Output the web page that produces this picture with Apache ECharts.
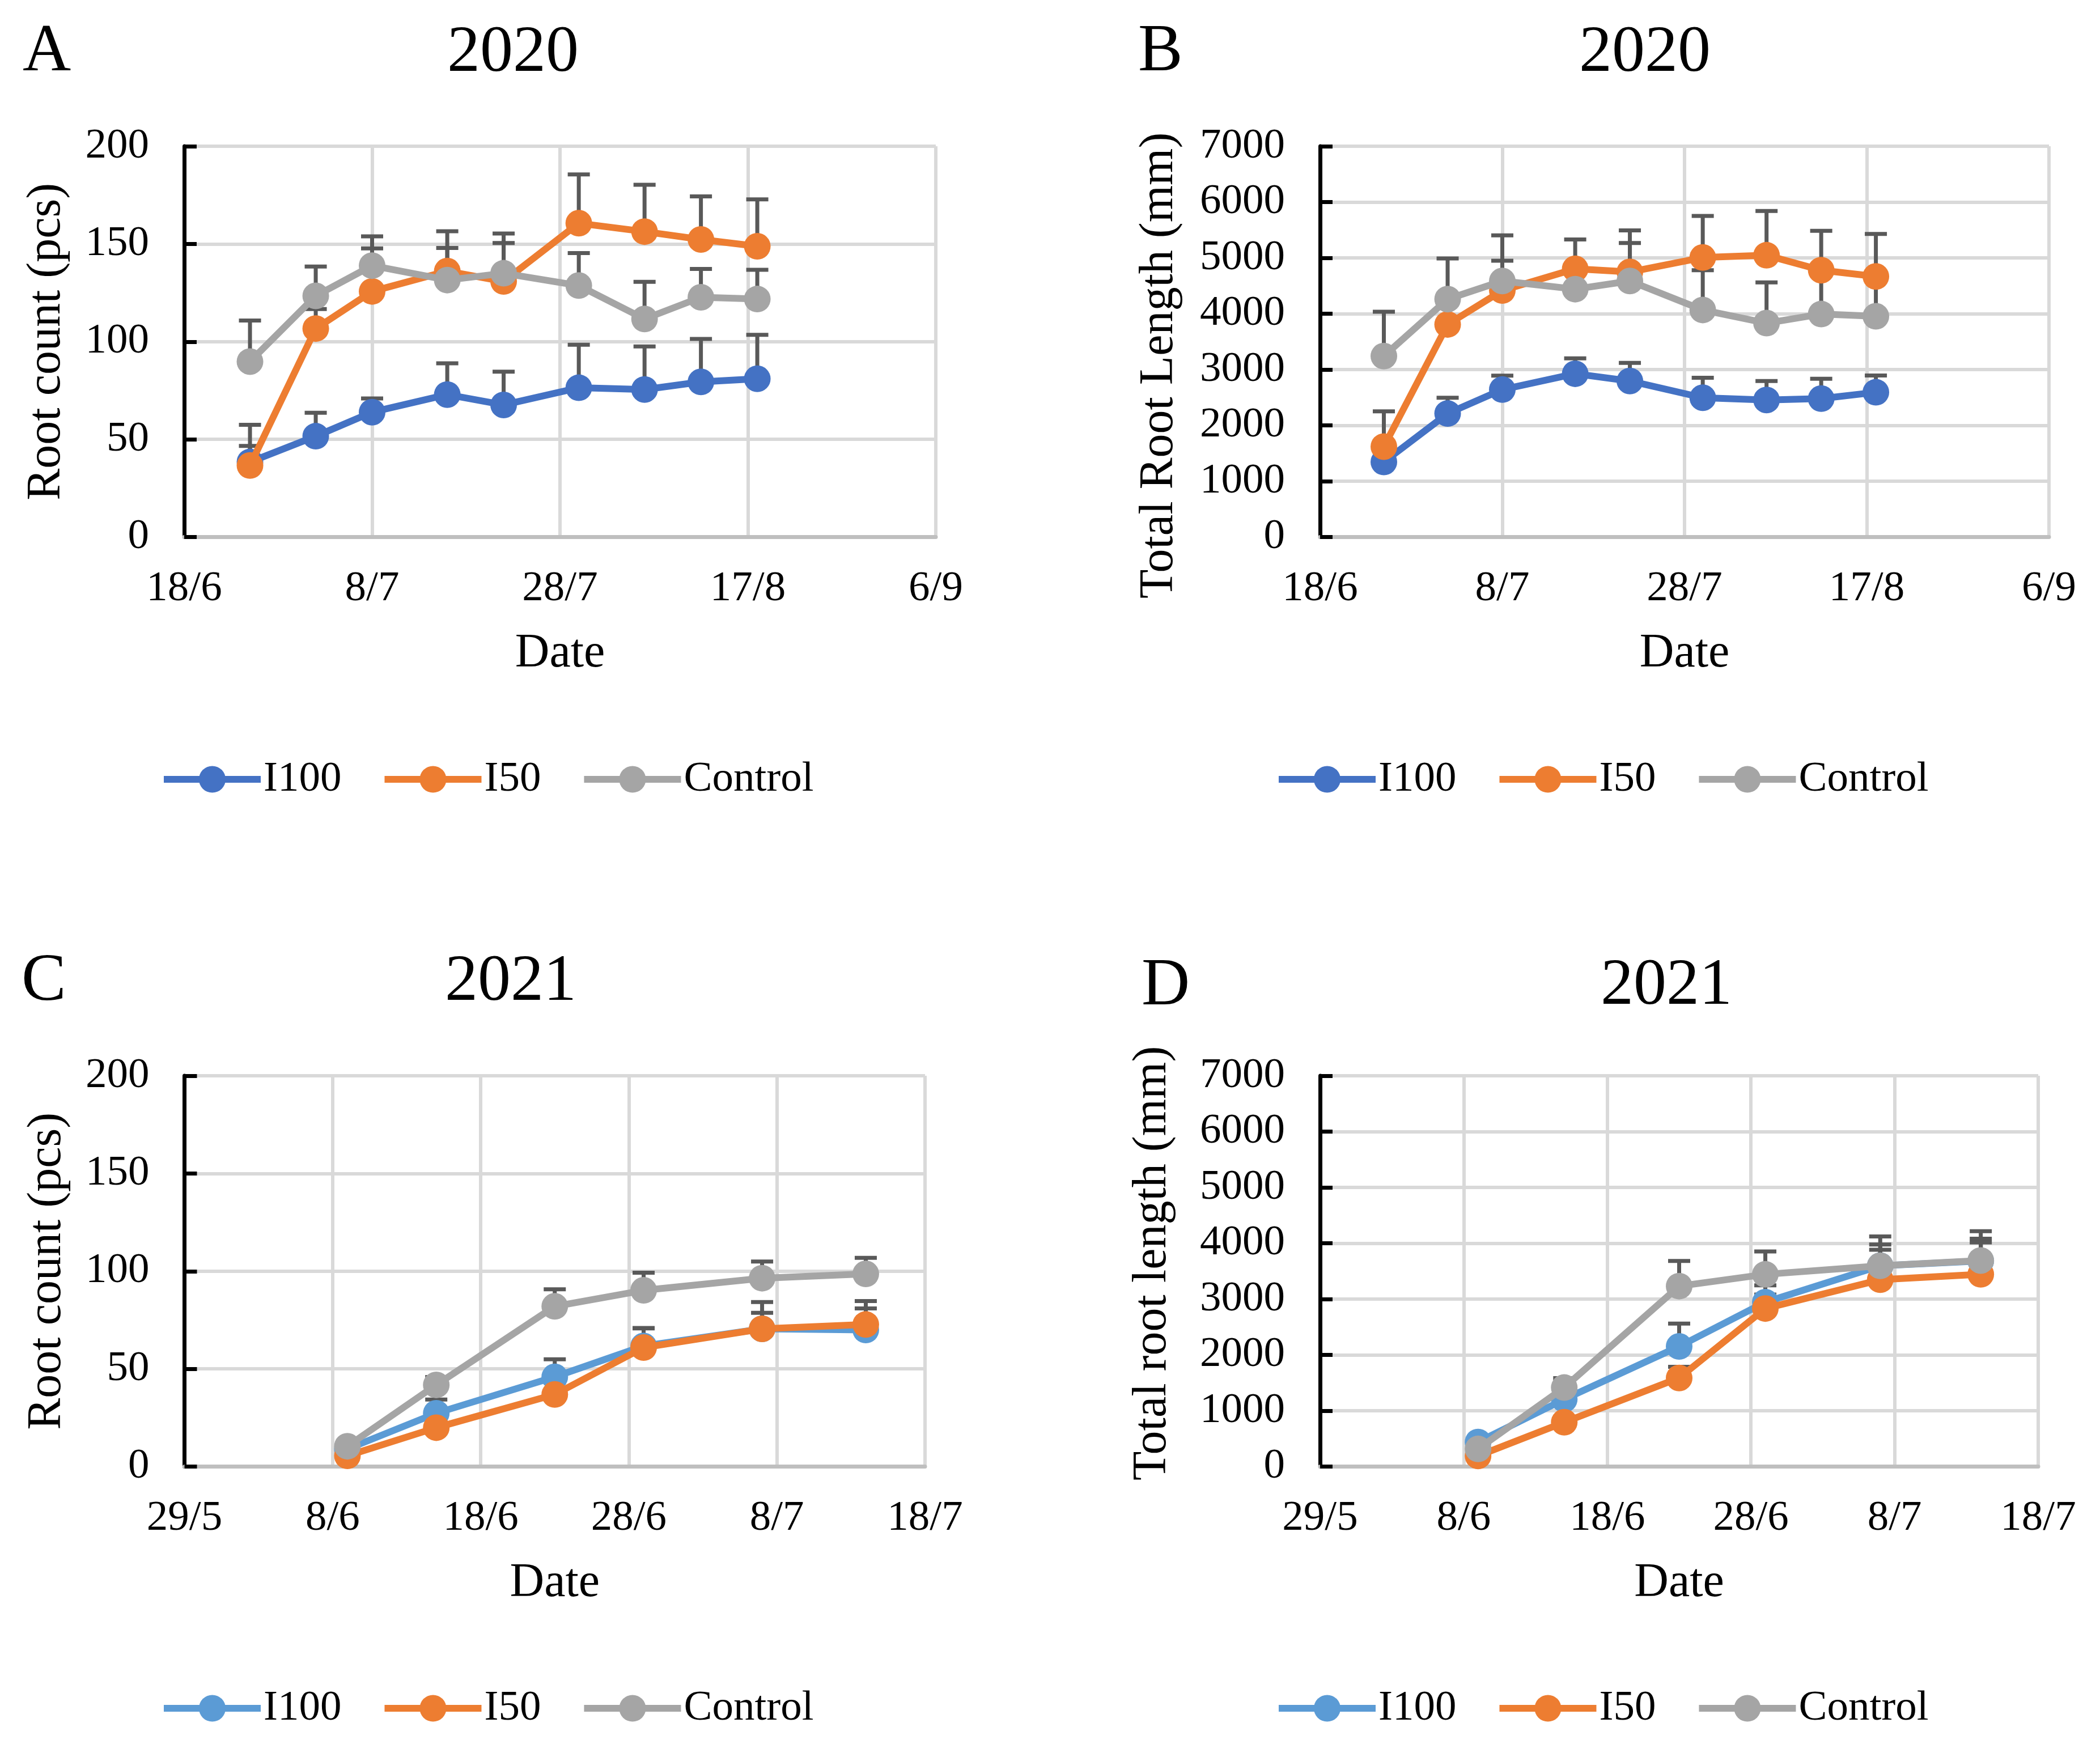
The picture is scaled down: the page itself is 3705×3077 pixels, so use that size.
<!DOCTYPE html>
<html>
<head>
<meta charset="utf-8">
<script src="https://cdn.jsdelivr.net/npm/echarts@6/dist/echarts.min.js"></script>
<style>
html,body{margin:0;padding:0;background:#fff;}
#chart{width:3705px;height:3077px;}
</style>
</head>
<body>
<div id="chart"></div>
<script>
// ---------- data ----------
const seriesNames = ['I100', 'I50', 'Control'];
const dates2020 = ['2020-06-25','2020-07-02','2020-07-08','2020-07-16','2020-07-22','2020-07-30','2020-08-06','2020-08-12','2020-08-18'];
const dates2021 = ['2021-06-09','2021-06-15','2021-06-23','2021-06-29','2021-07-07','2021-07-14'];
const axisStart2020 = '2020-06-18';
const axisStart2021 = '2021-05-29';
const xTicks2020 = ['18/6','8/7','28/7','17/8','6/9'];
const xTicks2021 = ['29/5','8/6','18/6','28/6','8/7','18/7'];
const yTicksCount = ['0','50','100','150','200'];
const yTicksLength = ['0','1000','2000','3000','4000','5000','6000','7000'];

// A: 2020 root count
const countI100_2020 = [38.4, 51.6, 63.9, 72.9, 67.6, 76.4, 75.5, 79.4, 81.0];
const countI100_2020_err = [19, 12, 7, 16, 17, 22, 22, 22, 22.5];
const countI50_2020 = [36.6, 106.7, 125.7, 136.1, 130.8, 160.6, 156.3, 152.3, 148.8];
const countI50_2020_err = [10, 10, 22, 20.4, 24.5, 25, 24, 22, 24];
const countCtrl_2020 = [89.8, 123.4, 138.9, 131.5, 135.0, 128.7, 111.6, 122.7, 121.8];
const countCtrl_2020_err = [21, 15, 15, 16.4, 15.5, 16.6, 19, 14.5, 15];

// B: 2020 total root length
const lenI100_2020 = [1345, 2212, 2641, 2925, 2795, 2495, 2455, 2479, 2593];
const lenI100_2020_err = [350, 283, 250, 275, 324, 357, 340, 357, 300];
const lenI50_2020 = [1620, 3808, 4415, 4804, 4748, 5007, 5047, 4780, 4667];
const lenI50_2020_err = [632, 450, 535, 527, 745, 745, 794, 705, 761];
const lenCtrl_2020 = [3241, 4262, 4586, 4440, 4586, 4067, 3832, 3994, 3954];
const lenCtrl_2020_err = [794, 729, 818, 450, 680, 713, 729, 700, 700];

// C: 2021 root count
const countI100_2021 = [9.0, 27.3, 45.9, 61.7, 70.5, 69.9];
const countI100_2021_err = [2, 7, 9, 9, 8.2, 11];
const countI50_2021 = [5.5, 19.9, 36.9, 60.9, 70.5, 72.7];
const countI50_2021_err = [2, 4, 6, 10, 13.7, 12];
const countCtrl_2021 = [10.4, 41.8, 82.0, 90.2, 96.4, 98.6];
const countCtrl_2021_err = [2, 4, 8.7, 9, 8.5, 8.2];

// D: 2021 total root length
const lenI100_2021 = [440, 1205, 2152, 2945, 3596, 3682];
const lenI100_2021_err = [60, 300, 410, 300, 382, 400];
const lenI50_2021 = [191, 794, 1587, 2831, 3347, 3443];
const lenI50_2021_err = [60, 100, 200, 250, 535, 573];
const lenCtrl_2021 = [316, 1415, 3232, 3443, 3596, 3691];
const lenCtrl_2021_err = [60, 170, 450, 411, 525, 526];

// ---------- styling ----------
const FONT = "'Liberation Serif', 'Times New Roman', serif";
const colors2020 = ['#4472C4', '#ED7D31', '#A5A5A5'];
const colors2021 = ['#5B9BD5', '#ED7D31', '#A5A5A5'];
const ERR_COLOR = '#595959';

function dayOffset(d, start) {
  const a = new Date(d + 'T00:00:00Z').getTime();
  const b = new Date(start + 'T00:00:00Z').getTime();
  return Math.round((a - b) / 86400000);
}

const panels = [
  { grid: {left: 325, top: 258, width: 1326, height: 689.5}, dates: dates2020, start: axisStart2020, xTicks: xTicks2020, xInterval: 20,
    yTicks: yTicksCount, yInterval: 50, yName: 'Root count (pcs)', nameGap: 200, namePad: [0,0,0,0], colors: colors2020,
    values: [countI100_2020, countI50_2020, countCtrl_2020], errs: [countI100_2020_err, countI50_2020_err, countCtrl_2020_err],
    legend: {left: 283, top: 1337.5} },
  { grid: {left: 2329, top: 258, width: 1286, height: 689.5}, dates: dates2020, start: axisStart2020, xTicks: xTicks2020, xInterval: 20,
    yTicks: yTicksLength, yInterval: 1000, yName: 'Total Root Length (mm)', nameGap: 241, namePad: [0,84,0,0], colors: colors2020,
    values: [lenI100_2020, lenI50_2020, lenCtrl_2020], errs: [lenI100_2020_err, lenI50_2020_err, lenCtrl_2020_err],
    legend: {left: 2250, top: 1337.5} },
  { grid: {left: 325.5, top: 1898, width: 1306.5, height: 689.5}, dates: dates2021, start: axisStart2021, xTicks: xTicks2021, xInterval: 10,
    yTicks: yTicksCount, yInterval: 50, yName: 'Root count (pcs)', nameGap: 200, namePad: [0,0,0,0], colors: colors2021,
    values: [countI100_2021, countI50_2021, countCtrl_2021], errs: [countI100_2021_err, countI50_2021_err, countCtrl_2021_err],
    legend: {left: 283, top: 2976.5} },
  { grid: {left: 2329, top: 1898, width: 1267, height: 689.5}, dates: dates2021, start: axisStart2021, xTicks: xTicks2021, xInterval: 10,
    yTicks: yTicksLength, yInterval: 1000, yName: 'Total root length (mm)', nameGap: 253, namePad: [0,0,0,28], colors: colors2021,
    values: [lenI100_2021, lenI50_2021, lenCtrl_2021], errs: [lenI100_2021_err, lenI50_2021_err, lenCtrl_2021_err],
    legend: {left: 2250, top: 2976.5} }
];

const grids = [], xAxes = [], yAxes = [], series = [], legends = [];

panels.forEach((p, i) => {
  grids.push(Object.assign({containLabel: false}, p.grid));
  const xMax = (p.xTicks.length - 1) * p.xInterval;
  const yMax = (p.yTicks.length - 1) * p.yInterval;
  xAxes.push({
    type: 'value', gridIndex: i, min: 0, max: xMax, interval: p.xInterval,
    name: 'Date', nameLocation: 'middle', nameGap: 164,
    nameTextStyle: {fontFamily: FONT, fontSize: 84, color: '#000'},
    axisLine: {show: true, onZero: false, lineStyle: {color: '#BFBFBF', width: 7}},
    axisTick: {show: false},
    axisLabel: {fontFamily: FONT, fontSize: 75, color: '#000', margin: 54,
      formatter: (v) => p.xTicks[Math.round(v / p.xInterval)]},
    splitLine: {show: true, lineStyle: {color: '#D9D9D9', width: 6}}
  });
  yAxes.push({
    type: 'value', gridIndex: i, min: 0, max: yMax, interval: p.yInterval,
    name: p.yName, nameLocation: 'middle', nameGap: p.nameGap,
    nameTextStyle: {fontFamily: FONT, fontSize: 84, color: '#000', padding: p.namePad},
    axisLine: {show: true, lineStyle: {color: '#000', width: 7}},
    axisTick: {show: true, inside: true, length: 22, lineStyle: {color: '#000', width: 7}},
    axisLabel: {fontFamily: FONT, fontSize: 75, color: '#000', margin: 62,
      formatter: (v) => p.yTicks[Math.round(v / p.yInterval)]},
    splitLine: {show: true, lineStyle: {color: '#D9D9D9', width: 6}}
  });
  const xs = p.dates.map(d => dayOffset(d, p.start));
  // error bars (drawn first, beneath the lines)
  seriesNames.forEach((name, k) => {
    series.push({
      type: 'custom', name: name + '_err', xAxisIndex: i, yAxisIndex: i, z: 1, silent: true, clip: false,
      encode: {x: 0, y: 1},
      data: xs.map((x, j) => [x, p.values[k][j], p.errs[k][j]]),
      renderItem: (params, api) => {
        const x = api.value(0), y = api.value(1), e = api.value(2);
        const p0 = api.coord([x, y]);
        const p1 = api.coord([x, y + e]);
        const half = 19.5;
        return {type: 'group', children: [
          {type: 'line', shape: {x1: p0[0], y1: p0[1], x2: p1[0], y2: p1[1]}, style: {stroke: ERR_COLOR, lineWidth: 7}},
          {type: 'line', shape: {x1: p1[0] - half, y1: p1[1], x2: p1[0] + half, y2: p1[1]}, style: {stroke: ERR_COLOR, lineWidth: 7}}
        ]};
      }
    });
  });
  seriesNames.forEach((name, k) => {
    series.push({
      type: 'line', name: name, xAxisIndex: i, yAxisIndex: i, z: 2 + k,
      data: xs.map((x, j) => [x, p.values[k][j]]),
      symbol: 'circle', symbolSize: 47, showSymbol: true,
      lineStyle: {color: p.colors[k], width: 12},
      itemStyle: {color: p.colors[k]},
      emphasis: {disabled: true}
    });
  });
  legends.push({
    left: p.legend.left, top: p.legend.top, orient: 'horizontal', padding: 0,
    itemWidth: 171, itemHeight: 59, itemGap: 70, selectedMode: false,
    textStyle: {fontFamily: FONT, fontSize: 75, color: '#000'},
    data: seriesNames.map((n, k) => ({name: n, itemStyle: {color: p.colors[k]}, lineStyle: {color: p.colors[k], width: 12}}))
  });
});

const textEl = (x, y, text, size) => ({
  type: 'text', x: x, y: y, silent: true,
  style: {text: text, fontFamily: FONT, fontSize: size, fill: '#000', textAlign: 'left', textVerticalAlign: 'middle'}
});
const textCenter = (x, y, text, size) => ({
  type: 'text', x: x, y: y, silent: true,
  style: {text: text, fontFamily: FONT, fontSize: size, fill: '#000', textAlign: 'center', textVerticalAlign: 'middle'}
});

const chart = echarts.init(document.getElementById('chart'), null, {renderer: 'canvas', devicePixelRatio: 1});
chart.setOption({
  backgroundColor: '#fff',
  animation: false,
  grid: grids,
  xAxis: xAxes,
  yAxis: yAxes,
  legend: legends,
  series: series,
  graphic: [
    textEl(40, 93, 'A', 118),
    textCenter(905, 95, '2020', 116),
    textEl(2008, 93, 'B', 118),
    textCenter(2902, 95, '2020', 116),
    textEl(38, 1733, 'C', 118),
    textCenter(901, 1734, '2021', 116),
    textEl(2014, 1741, 'D', 118),
    textCenter(2940, 1741, '2021', 116)
  ]
});
</script>
</body>
</html>
